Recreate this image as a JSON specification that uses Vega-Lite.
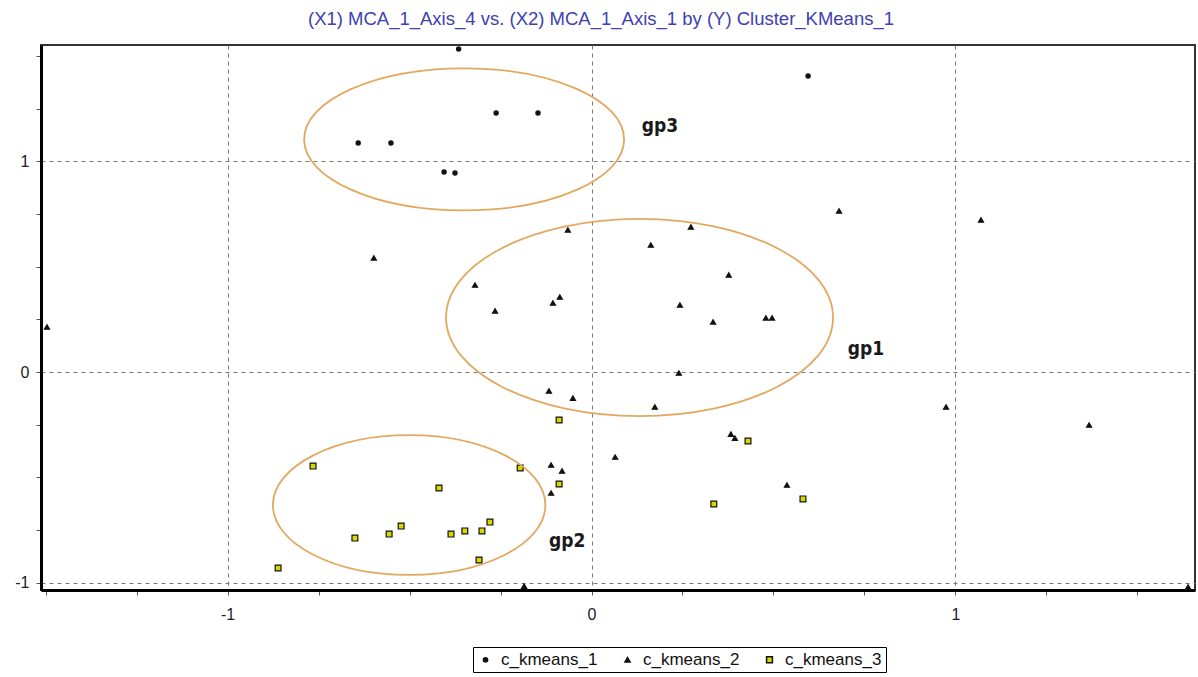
{
  "$schema": "https://vega.github.io/schema/vega-lite/v6.json",
  "width": 1154,
  "height": 545,
  "autosize": "none",
  "padding": {"left": 41, "top": 45, "right": 3, "bottom": 87},
  "background": "white",
  "title": {
    "text": "(X1) MCA_1_Axis_4 vs. (X2) MCA_1_Axis_1 by (Y) Cluster_KMeans_1",
    "font": "Liberation Sans",
    "fontSize": 18.5,
    "fontWeight": "normal",
    "color": "#4040b0",
    "anchor": "middle",
    "offset": 16,
    "dx": -17
  },
  "config": {
    "view": {"stroke": "#333333", "strokeWidth": 2},
    "axis": {
      "title": null,
      "grid": true,
      "gridColor": "#7a7a7a",
      "gridDash": [4, 4],
      "gridWidth": 1,
      "domainColor": "#000000",
      "domainWidth": 3,
      "tickColor": "#555555",
      "tickSize": 5,
      "labelFont": "Liberation Sans",
      "labelFontSize": 16,
      "labelColor": "#222222",
      "labelFlush": false,
      "labelOverlap": false
    }
  },
  "datasets": {
    "pts": [
      {"x": -0.365, "y": 1.534, "cluster": "c_kmeans_1"},
      {"x": -0.641, "y": 1.088, "cluster": "c_kmeans_1"},
      {"x": -0.551, "y": 1.088, "cluster": "c_kmeans_1"},
      {"x": -0.405, "y": 0.950, "cluster": "c_kmeans_1"},
      {"x": -0.375, "y": 0.945, "cluster": "c_kmeans_1"},
      {"x": -0.262, "y": 1.230, "cluster": "c_kmeans_1"},
      {"x": -0.147, "y": 1.230, "cluster": "c_kmeans_1"},
      {"x": 0.595, "y": 1.406, "cluster": "c_kmeans_1"},
      {"x": -1.496, "y": 0.214, "cluster": "c_kmeans_2"},
      {"x": -0.598, "y": 0.542, "cluster": "c_kmeans_2"},
      {"x": -0.320, "y": 0.413, "cluster": "c_kmeans_2"},
      {"x": -0.265, "y": 0.290, "cluster": "c_kmeans_2"},
      {"x": -0.106, "y": 0.328, "cluster": "c_kmeans_2"},
      {"x": -0.087, "y": 0.356, "cluster": "c_kmeans_2"},
      {"x": -0.065, "y": 0.675, "cluster": "c_kmeans_2"},
      {"x": 0.163, "y": 0.603, "cluster": "c_kmeans_2"},
      {"x": 0.273, "y": 0.689, "cluster": "c_kmeans_2"},
      {"x": 0.377, "y": 0.461, "cluster": "c_kmeans_2"},
      {"x": 0.243, "y": 0.318, "cluster": "c_kmeans_2"},
      {"x": 0.334, "y": 0.238, "cluster": "c_kmeans_2"},
      {"x": 0.479, "y": 0.257, "cluster": "c_kmeans_2"},
      {"x": 0.496, "y": 0.257, "cluster": "c_kmeans_2"},
      {"x": 0.680, "y": 0.765, "cluster": "c_kmeans_2"},
      {"x": 1.070, "y": 0.722, "cluster": "c_kmeans_2"},
      {"x": 0.240, "y": -0.005, "cluster": "c_kmeans_2"},
      {"x": 0.174, "y": -0.166, "cluster": "c_kmeans_2"},
      {"x": -0.117, "y": -0.090, "cluster": "c_kmeans_2"},
      {"x": -0.051, "y": -0.124, "cluster": "c_kmeans_2"},
      {"x": 0.383, "y": -0.295, "cluster": "c_kmeans_2"},
      {"x": 0.394, "y": -0.314, "cluster": "c_kmeans_2"},
      {"x": 0.065, "y": -0.404, "cluster": "c_kmeans_2"},
      {"x": 0.537, "y": -0.537, "cluster": "c_kmeans_2"},
      {"x": 0.974, "y": -0.166, "cluster": "c_kmeans_2"},
      {"x": 1.367, "y": -0.252, "cluster": "c_kmeans_2"},
      {"x": -0.111, "y": -0.442, "cluster": "c_kmeans_2"},
      {"x": -0.081, "y": -0.470, "cluster": "c_kmeans_2"},
      {"x": -0.111, "y": -0.575, "cluster": "c_kmeans_2"},
      {"x": -0.185, "y": -1.017, "cluster": "c_kmeans_2"},
      {"x": 1.639, "y": -1.021, "cluster": "c_kmeans_2"},
      {"x": -0.089, "y": -0.228, "cluster": "c_kmeans_3"},
      {"x": -0.765, "y": -0.447, "cluster": "c_kmeans_3"},
      {"x": -0.196, "y": -0.456, "cluster": "c_kmeans_3"},
      {"x": -0.419, "y": -0.551, "cluster": "c_kmeans_3"},
      {"x": -0.089, "y": -0.532, "cluster": "c_kmeans_3"},
      {"x": -0.523, "y": -0.732, "cluster": "c_kmeans_3"},
      {"x": -0.556, "y": -0.770, "cluster": "c_kmeans_3"},
      {"x": -0.650, "y": -0.789, "cluster": "c_kmeans_3"},
      {"x": -0.279, "y": -0.713, "cluster": "c_kmeans_3"},
      {"x": -0.348, "y": -0.755, "cluster": "c_kmeans_3"},
      {"x": -0.386, "y": -0.770, "cluster": "c_kmeans_3"},
      {"x": -0.301, "y": -0.755, "cluster": "c_kmeans_3"},
      {"x": -0.309, "y": -0.893, "cluster": "c_kmeans_3"},
      {"x": -0.861, "y": -0.931, "cluster": "c_kmeans_3"},
      {"x": 0.430, "y": -0.328, "cluster": "c_kmeans_3"},
      {"x": 0.336, "y": -0.627, "cluster": "c_kmeans_3"},
      {"x": 0.581, "y": -0.603, "cluster": "c_kmeans_3"}
    ],
    "groups": [
      {"group": "gp3", "cx": -0.350, "cy": 1.105, "lx": 0.188, "ly": 1.140},
      {"group": "gp1", "cx": 0.132, "cy": 0.259, "lx": 0.754, "ly": 0.081},
      {"group": "gp2", "cx": -0.501, "cy": -0.632, "lx": -0.067, "ly": -0.831}
    ]
  },
  "layer": [
    {
      "data": {"name": "pts"},
      "mark": {"type": "point", "filled": true, "stroke": "#111111", "strokeWidth": 1.2, "opacity": 1},
      "encoding": {
        "x": {
          "field": "x", "type": "quantitative",
          "scale": {"domain": [-1.5124, 1.658], "nice": false, "zero": false},
          "axis": {
            "values": [-1.5, -1.25, -1, -0.75, -0.5, -0.25, 0, 0.25, 0.5, 0.75, 1, 1.25, 1.5],
            "labelExpr": "abs(datum.value - round(datum.value)) < 0.001 ? '' + datum.value : ''",
            "gridOpacity": {"condition": {"test": "abs(datum.value - round(datum.value)) < 0.001", "value": 1}, "value": 0},
            "labelPadding": 11
          }
        },
        "y": {
          "field": "y", "type": "quantitative",
          "scale": {"domain": [-1.0356, 1.5534], "nice": false, "zero": false},
          "axis": {
            "values": [-1, -0.75, -0.5, -0.25, 0, 0.25, 0.5, 0.75, 1, 1.25, 1.5],
            "labelExpr": "abs(datum.value - round(datum.value)) < 0.001 ? '' + datum.value : ''",
            "gridOpacity": {"condition": {"test": "abs(datum.value - round(datum.value)) < 0.001", "value": 1}, "value": 0},
            "labelPadding": 7
          }
        },
        "shape": {
          "field": "cluster", "type": "nominal",
          "scale": {"domain": ["c_kmeans_1", "c_kmeans_2", "c_kmeans_3"], "range": ["circle", "triangle-up", "square"]},
          "legend": {
            "title": null,
            "orient": "none",
            "legendX": 432,
            "legendY": 602,
            "direction": "horizontal",
            "strokeColor": "#000000",
            "fillColor": "#ffffff",
            "padding": 4,
            "labelFont": "Liberation Sans",
            "labelFontSize": 17,
            "labelColor": "#111111",
            "labelOffset": 7,
            "columnPadding": 21
          }
        },
        "fill": {
          "field": "cluster", "type": "nominal",
          "scale": {"domain": ["c_kmeans_1", "c_kmeans_2", "c_kmeans_3"], "range": ["#111111", "#111111", "#d8d800"]}
        },
        "size": {
          "field": "cluster", "type": "nominal",
          "scale": {"domain": ["c_kmeans_1", "c_kmeans_2", "c_kmeans_3"], "range": [18, 34, 36]}
        }
      }
    },
    {
      "data": {"name": "groups"},
      "transform": [{"filter": "datum.group === 'gp3'"}],
      "mark": {"type": "point", "shape": "M-1,0A1,0.444,0,1,0,1,0A1,0.444,0,1,0,-1,0Z", "size": 102400, "filled": false, "stroke": "#e3a85f", "strokeWidth": 1.8, "opacity": 1},
      "encoding": {
        "x": {"field": "cx", "type": "quantitative"},
        "y": {"field": "cy", "type": "quantitative"}
      }
    },
    {
      "data": {"name": "groups"},
      "transform": [{"filter": "datum.group === 'gp1'"}],
      "mark": {"type": "point", "shape": "M-1,0A1,0.51,0,1,0,1,0A1,0.51,0,1,0,-1,0Z", "size": 149769, "filled": false, "stroke": "#e3a85f", "strokeWidth": 1.8, "opacity": 1},
      "encoding": {
        "x": {"field": "cx", "type": "quantitative"},
        "y": {"field": "cy", "type": "quantitative"}
      }
    },
    {
      "data": {"name": "groups"},
      "transform": [{"filter": "datum.group === 'gp2'"}],
      "mark": {"type": "point", "shape": "M-1,0A1,0.513,0,1,0,1,0A1,0.513,0,1,0,-1,0Z", "size": 74256, "filled": false, "stroke": "#e3a85f", "strokeWidth": 1.8, "opacity": 1},
      "encoding": {
        "x": {"field": "cx", "type": "quantitative"},
        "y": {"field": "cy", "type": "quantitative"}
      }
    },
    {
      "data": {"name": "groups"},
      "mark": {"type": "text", "font": "'DejaVu Sans Condensed', 'Liberation Sans Narrow', 'DejaVu Sans', sans-serif", "fontWeight": "bold", "fontSize": 19, "color": "#1a1a1a", "align": "center", "baseline": "alphabetic"},
      "encoding": {
        "x": {"field": "lx", "type": "quantitative"},
        "y": {"field": "ly", "type": "quantitative"},
        "text": {"field": "group", "type": "nominal"}
      }
    }
  ]
}
